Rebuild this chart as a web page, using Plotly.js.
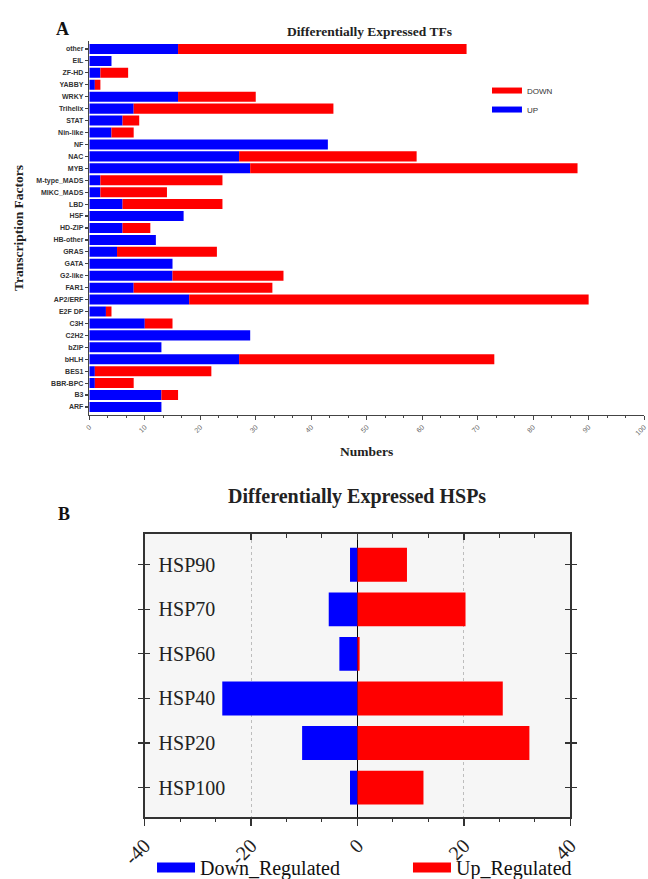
<!DOCTYPE html>
<html>
<head>
<meta charset="utf-8">
<script src="https://cdn.plot.ly/plotly-3.0.1.min.js"></script>
<style>html,body{margin:0;padding:0;background:#fff;}#chart{width:648px;height:879px;}</style>
</head>
<body>
<div id="chart"></div>
<script>
// Panel A: differentially expressed transcription factors (top to bottom)
const tfCategories = ['other','EIL','ZF-HD','YABBY','WRKY','Trihelix','STAT','Nin-like','NF','NAC','MYB','M-type_MADS','MIKC_MADS','LBD','HSF','HD-ZIP','HB-other','GRAS','GATA','G2-like','FAR1','AP2/ERF','E2F DP','C3H','C2H2','bZIP','bHLH','BES1','BBR-BPC','B3','ARF'];
const tfUp   = [16, 4, 2, 1, 16, 8, 6, 4, 43, 27, 29, 2, 2, 6, 17, 6, 12, 5, 15, 15, 8, 18, 3, 10, 29, 13, 27, 1, 1, 13, 13];
const tfDown = [52, 0, 5, 1, 14, 36, 3, 4, 0, 32, 59, 22, 12, 18, 0, 5, 0, 18, 0, 20, 25, 72, 1, 5, 0, 0, 46, 21, 7, 3, 0];
const tfXTicks = [0,10,20,30,40,50,60,70,80,90,100];

// Panel B: differentially expressed HSPs (bottom to top)
const hspCategories = ['HSP100','HSP20','HSP40','HSP60','HSP70','HSP90'];
const hspDown = [-1.4, -10.4, -25.4, -3.4, -5.4, -1.4];
const hspUp   = [12.4, 32.3, 27.3, 0.4, 20.3, 9.3];
const hspXTicks = [-40,-20,0,20,40];

const SERIF = 'Liberation Serif, Times New Roman, serif';
const SANS = 'Liberation Sans, Arial, sans-serif';
const BLUE = '#0000ff', RED = '#ff0000';

const traces = [
  {type:'bar', orientation:'h', x: tfUp, y: tfCategories, name:'UP', marker:{color:BLUE}, width:0.84,
   xaxis:'x', yaxis:'y', showlegend:false, hoverinfo:'skip'},
  {type:'bar', orientation:'h', x: tfDown, y: tfCategories, name:'DOWN', marker:{color:RED}, width:0.84,
   xaxis:'x', yaxis:'y', showlegend:false, hoverinfo:'skip'},
  {type:'scatter', mode:'lines', x:[null], y:[null], name:'DOWN', line:{color:RED, width:6}, xaxis:'x', yaxis:'y', legend:'legend'},
  {type:'scatter', mode:'lines', x:[null], y:[null], name:'UP', line:{color:BLUE, width:6}, xaxis:'x', yaxis:'y', legend:'legend'},

  {type:'bar', orientation:'h', x: hspDown, y: hspCategories, name:'Down_Regulated', marker:{color:BLUE}, width:0.76,
   xaxis:'x2', yaxis:'y2', showlegend:false, hoverinfo:'skip'},
  {type:'bar', orientation:'h', x: hspUp, y: hspCategories, name:'Up_Regulated', marker:{color:RED}, width:0.76,
   xaxis:'x2', yaxis:'y2', showlegend:false, hoverinfo:'skip'},
  {type:'scatter', mode:'lines', x:[null], y:[null], name:'Down_Regulated', line:{color:BLUE, width:14}, xaxis:'x4', yaxis:'y3', legend:'legend2'},
  {type:'scatter', mode:'lines', x:[null], y:[null], name:'Up_Regulated', line:{color:RED, width:14}, xaxis:'x3', yaxis:'y2', legend:'legend3'}
];

const layout = {
  width:648, height:879,
  margin:{l:0, r:0, t:0, b:0, autoexpand:false},
  paper_bgcolor:'#ffffff', plot_bgcolor:'rgba(0,0,0,0)',
  barmode:'relative',
  showlegend:true,
  xaxis:{
    domain:[0.1378, 0.994], anchor:'y', range:[0,100],
    tickmode:'array', tickvals: tfXTicks, ticktext: tfXTicks.map(String),
    showline:true, linecolor:'#444', linewidth:1.5,
    ticks:'outside', ticklen:4, tickwidth:1.2, tickcolor:'#444',
    minor:{ticks:'outside', ticklen:2, tickwidth:1, tickcolor:'#444', dtick:10/3, tick0:0},
    tickangle:-45, tickfont:{family:SANS, size:7, color:'#666'}, ticklabeloverflow:'allow',
    showgrid:false, zeroline:false, automargin:false,
    title:{text:'Numbers', font:{family:SERIF, size:13.5, weight:'bold', color:'#222'}, standoff:10}
  },
  yaxis:{
    domain:[0.5279, 0.9534], anchor:'x', type:'category',
    categoryorder:'array', categoryarray: tfCategories, range:[30.67, -0.67],
    showline:true, linecolor:'#444', linewidth:1.5,
    ticks:'outside', ticklen:3, tickwidth:1.2, tickcolor:'#444',
    tickfont:{family:SANS, size:7, weight:'bold', color:'#333'},
    showgrid:false, zeroline:false, automargin:false,
    title:{text:'Transcription Factors', font:{family:SERIF, size:13.5, weight:'bold', color:'#222'}, standoff:9}
  },
  xaxis2:{
    domain:[0.2231, 0.8802], anchor:'y2', range:[-40,40],
    tickmode:'array', tickvals: hspXTicks, showticklabels:false,
    showline:true, mirror:true, linecolor:'#333', linewidth:1.5,
    ticks:'',
    showgrid:true, gridcolor:'#bdbdbd', griddash:'dot', gridwidth:1,
    zeroline:true, zerolinecolor:'#000', zerolinewidth:1.2, automargin:false
  },
  xaxis3:{
    overlaying:'x2', anchor:'y2', side:'top', range:[-40,40],
    tickmode:'array', tickvals: hspXTicks, showticklabels:false,
    ticks:'inside', ticklen:6, tickwidth:1.2, tickcolor:'#333',
    minor:{ticks:'inside', ticklen:4, tickwidth:1, tickcolor:'#333', dtick:20/3, tick0:-40, showgrid:false},
    showline:false, showgrid:false, zeroline:false, automargin:false
  },
  xaxis4:{
    domain:[0.2231, 0.8802], anchor:'y3', side:'bottom', range:[-40,40],
    tickmode:'array', tickvals: hspXTicks, ticktext: hspXTicks.map(String),
    ticks:'outside', ticklen:8, tickwidth:1.2, tickcolor:'#333',
    minor:{ticks:'outside', ticklen:4, tickwidth:1, tickcolor:'#333', dtick:20/3, tick0:-40, showgrid:false},
    tickangle:-45, tickfont:{family:SERIF, size:20, color:'#222'}, ticklabeloverflow:'allow',
    showline:false, showgrid:false, zeroline:false, automargin:false
  },
  yaxis3:{
    domain:[0.0705, 0.3925], anchor:'x4', range:[0,1], visible:false,
    showgrid:false, zeroline:false, automargin:false
  },
  yaxis2:{
    domain:[0.0705, 0.3925], anchor:'x2', type:'category',
    categoryorder:'array', categoryarray: hspCategories, range:[-0.66, 5.69],
    showline:true, mirror:'allticks', linecolor:'#333', linewidth:1.5,
    ticks:'inside', ticklen:5, tickwidth:1.2, tickcolor:'#333',
    ticklabelposition:'inside', ticklabelstandoff:10,
    tickfont:{family:SERIF, size:20, color:'#222'},
    showgrid:false, zeroline:false, automargin:false
  },
  legend:{
    x:0.7515, y:0.9135, xanchor:'left', yanchor:'top',
    font:{family:SANS, size:8, color:'#333'}, bgcolor:'rgba(0,0,0,0)', itemwidth:30
  },
  legend2:{
    orientation:'h', x:0.2346, y:-0.009, xanchor:'left', yanchor:'bottom',
    font:{family:SERIF, size:20, color:'#111'}, bgcolor:'rgba(0,0,0,0)', itemwidth:38
  },
  legend3:{
    orientation:'h', x:0.6296, y:-0.009, xanchor:'left', yanchor:'bottom',
    font:{family:SERIF, size:20, color:'#111'}, bgcolor:'rgba(0,0,0,0)', itemwidth:38
  },
  shapes:[
    {type:'rect', xref:'x2 domain', yref:'y2 domain', x0:0, x1:1, y0:0, y1:1,
     fillcolor:'#f6f6f6', line:{width:0}, layer:'below'}
  ],
  annotations:[
    {text:'A', xref:'paper', yref:'paper', x:0.0833, y:0.9807, showarrow:false,
     font:{family:SERIF, size:18, weight:'bold', color:'#111'}},
    {text:'Differentially Expressed TFs', xref:'paper', yref:'paper', x:0.5702, y:0.9753, showarrow:false,
     font:{family:SERIF, size:13.5, weight:'bold', color:'#222'}},
    {text:'B', xref:'paper', yref:'paper', x:0.0864, y:0.4152, showarrow:false,
     font:{family:SERIF, size:18, weight:'bold', color:'#111'}},
    {text:'Differentially Expressed HSPs', xref:'paper', yref:'paper', x:0.5509, y:0.4346, showarrow:false,
     font:{family:SERIF, size:20, weight:'bold', color:'#222'}}
  ]
};

Plotly.newPlot('chart', traces, layout, {displayModeBar:false, staticPlot:true});
</script>
</body>
</html>
